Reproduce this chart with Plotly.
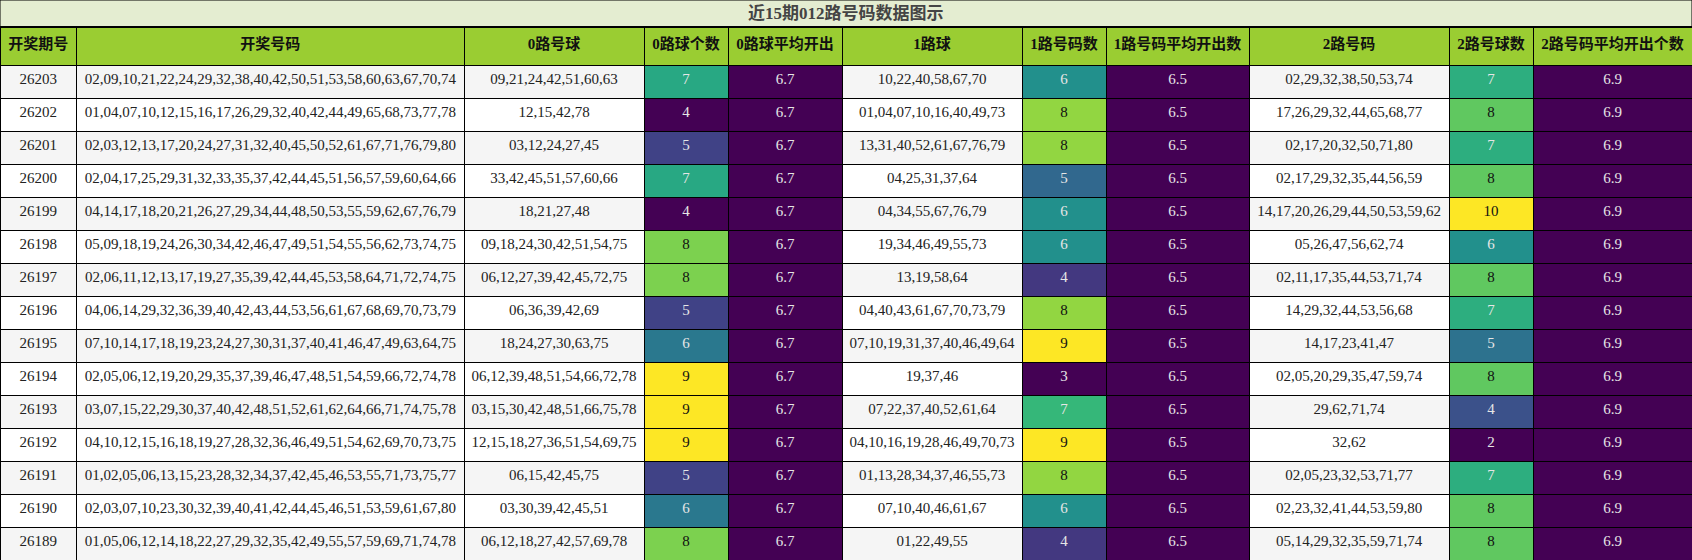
import plotly.graph_objects as go
from plotly.colors import sample_colorscale

title_text = "近15期012路号码数据图示"

headers = ["开奖期号", "开奖号码", "0路号球", "0路球个数", "0路球平均开出", "1路球",
           "1路号码数", "1路号码平均开出数", "2路号码", "2路号球数", "2路号码平均开出个数"]

periods = ["26203", "26202", "26201", "26200", "26199", "26198", "26197", "26196",
           "26195", "26194", "26193", "26192", "26191", "26190", "26189"]

draws = [
    "02,09,10,21,22,24,29,32,38,40,42,50,51,53,58,60,63,67,70,74",
    "01,04,07,10,12,15,16,17,26,29,32,40,42,44,49,65,68,73,77,78",
    "02,03,12,13,17,20,24,27,31,32,40,45,50,52,61,67,71,76,79,80",
    "02,04,17,25,29,31,32,33,35,37,42,44,45,51,56,57,59,60,64,66",
    "04,14,17,18,20,21,26,27,29,34,44,48,50,53,55,59,62,67,76,79",
    "05,09,18,19,24,26,30,34,42,46,47,49,51,54,55,56,62,73,74,75",
    "02,06,11,12,13,17,19,27,35,39,42,44,45,53,58,64,71,72,74,75",
    "04,06,14,29,32,36,39,40,42,43,44,53,56,61,67,68,69,70,73,79",
    "07,10,14,17,18,19,23,24,27,30,31,37,40,41,46,47,49,63,64,75",
    "02,05,06,12,19,20,29,35,37,39,46,47,48,51,54,59,66,72,74,78",
    "03,07,15,22,29,30,37,40,42,48,51,52,61,62,64,66,71,74,75,78",
    "04,10,12,15,16,18,19,27,28,32,36,46,49,51,54,62,69,70,73,75",
    "01,02,05,06,13,15,23,28,32,34,37,42,45,46,53,55,71,73,75,77",
    "02,03,07,10,23,30,32,39,40,41,42,44,45,46,51,53,59,61,67,80",
    "01,05,06,12,14,18,22,27,29,32,35,42,49,55,57,59,69,71,74,78",
]

route0 = [
    "09,21,24,42,51,60,63", "12,15,42,78", "03,12,24,27,45", "33,42,45,51,57,60,66",
    "18,21,27,48", "09,18,24,30,42,51,54,75", "06,12,27,39,42,45,72,75", "06,36,39,42,69",
    "18,24,27,30,63,75", "06,12,39,48,51,54,66,72,78", "03,15,30,42,48,51,66,75,78",
    "12,15,18,27,36,51,54,69,75", "06,15,42,45,75", "03,30,39,42,45,51",
    "06,12,18,27,42,57,69,78",
]
count0 = [7, 4, 5, 7, 4, 8, 8, 5, 6, 9, 9, 9, 5, 6, 8]
avg0 = [6.7] * 15

route1 = [
    "10,22,40,58,67,70", "01,04,07,10,16,40,49,73", "13,31,40,52,61,67,76,79",
    "04,25,31,37,64", "04,34,55,67,76,79", "19,34,46,49,55,73", "13,19,58,64",
    "04,40,43,61,67,70,73,79", "07,10,19,31,37,40,46,49,64", "19,37,46",
    "07,22,37,40,52,61,64", "04,10,16,19,28,46,49,70,73", "01,13,28,34,37,46,55,73",
    "07,10,40,46,61,67", "01,22,49,55",
]
count1 = [6, 8, 8, 5, 6, 6, 4, 8, 9, 3, 7, 9, 8, 6, 4]
avg1 = [6.5] * 15

route2 = [
    "02,29,32,38,50,53,74", "17,26,29,32,44,65,68,77", "02,17,20,32,50,71,80",
    "02,17,29,32,35,44,56,59", "14,17,20,26,29,44,50,53,59,62", "05,26,47,56,62,74",
    "02,11,17,35,44,53,71,74", "14,29,32,44,53,56,68", "14,17,23,41,47",
    "02,05,20,29,35,47,59,74", "29,62,71,74", "32,62", "02,05,23,32,53,71,77",
    "02,23,32,41,44,53,59,80", "05,14,29,32,35,59,71,74",
]
count2 = [7, 8, 7, 8, 10, 6, 8, 7, 5, 8, 4, 2, 7, 8, 8]
avg2 = [6.9] * 15

col_widths = [76.6, 387.4, 180, 84, 114, 180, 84, 143, 200, 84, 159]

W, H = 1692, 560
TITLE_H = 27
HEADER_H = 38
ROW_H = 33

stripe = ["#f5f5f5" if i % 2 == 0 else "#ffffff" for i in range(len(periods))]
text_dark = "#222222"


def scale_colors(vals):
    lo, hi = min(vals), max(vals)
    fills, fonts = [], []
    for v in vals:
        t = 0.0 if hi == lo else (v - lo) / (hi - lo)
        fills.append(sample_colorscale("Viridis", [t])[0])
        fonts.append("#111111" if t >= 0.7 else "#e6e6e6")
    return fills, fonts


f0, t0 = scale_colors(count0)
f1, t1 = scale_colors(count1)
f2, t2 = scale_colors(count2)
fa0, ta0 = scale_colors(avg0)
fa1, ta1 = scale_colors(avg1)
fa2, ta2 = scale_colors(avg2)

cell_values = [periods, draws, route0, count0, [f"{v:.1f}" for v in avg0], route1, count1,
               [f"{v:.1f}" for v in avg1], route2, count2, [f"{v:.1f}" for v in avg2]]
cell_fills = [stripe, stripe, stripe, f0, fa0, stripe, f1, fa1, stripe, f2, fa2]
cell_fonts = [[text_dark] * 15, [text_dark] * 15, [text_dark] * 15, t0, ta0,
              [text_dark] * 15, t1, ta1, [text_dark] * 15, t2, ta2]

font_family = "Liberation Serif, Noto Sans CJK SC, serif"

fig = go.Figure()
fig.add_trace(go.Table(
    domain=dict(x=[0, 1], y=[0, 1 - TITLE_H / H]),
    columnwidth=col_widths,
    header=dict(
        values=[f"<b>{h}</b>" for h in headers],
        fill_color="#9acd32",
        line=dict(color="black", width=1),
        align="center",
        height=HEADER_H,
        font=dict(family=font_family, size=15, color="#111111"),
    ),
    cells=dict(
        values=cell_values,
        fill_color=cell_fills,
        line=dict(color="black", width=1),
        align="center",
        height=ROW_H,
        font=dict(family=font_family, size=15, color=cell_fonts),
    ),
))

fig.add_shape(type="rect", xref="paper", yref="paper", x0=0, x1=1,
              y0=1 - TITLE_H / H, y1=1, fillcolor="#e4edd1",
              line=dict(color="black", width=1), layer="below")
fig.add_shape(type="line", xref="paper", yref="paper", x0=0, x1=1,
              y0=1 - TITLE_H / H, y1=1 - TITLE_H / H,
              line=dict(color="black", width=2), layer="above")
fig.add_annotation(text=f"<b>{title_text}</b>", xref="paper", yref="paper",
                   x=0.5, y=1 - TITLE_H / H / 2, showarrow=False,
                   font=dict(family=font_family, size=17, color="#444444"),
                   xanchor="center", yanchor="middle")

fig.update_layout(width=W, height=H, margin=dict(l=0, r=0, t=0, b=0),
                  paper_bgcolor="white")
fig.write_html("out.html", config={"displayModeBar": False},
               post_script="document.body.style.margin='0';document.body.style.overflow='hidden';")
